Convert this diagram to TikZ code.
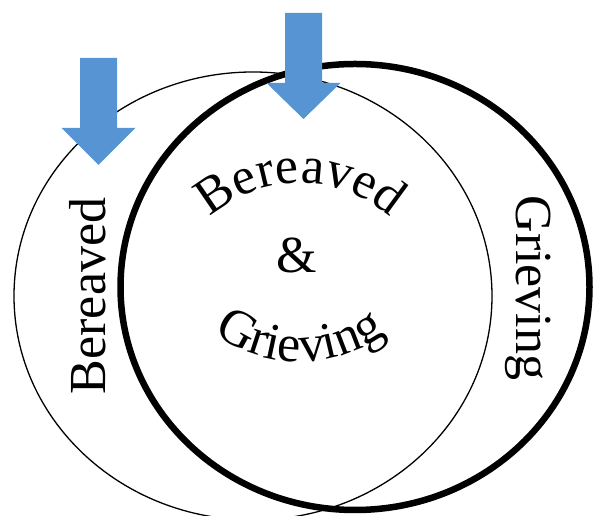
\documentclass[tikz,border=0pt]{standalone}
\usepackage{fontspec}
\setmainfont{Liberation Serif}
\usetikzlibrary{decorations.text}
\definecolor{arrowblue}{RGB}{86,148,211}
\begin{document}
\begin{tikzpicture}[x=1pt,y=1pt,
  thinring/.style={line width=1.3pt},
  thickring/.style={line width=6.5pt},
  downarrow/.style={fill=arrowblue, draw=none},
  bigtext/.style={font=\fontsize{52}{52}\selectfont, inner sep=0pt},
  arctext/.style={decorate, decoration={text along path, text align=center,
    text={|\fontsize{52}{52}\selectfont|#1}}}]
\useasboundingbox (0,0) rectangle (594,516);

% the two overlapping rings
\draw[thinring] (253,220) ellipse [x radius=239, y radius=224];
\draw[thickring] (355,229) ellipse [x radius=234.5, y radius=223];

% block arrows pointing down into the rings
\fill[downarrow] (80,458) -- (117,458) -- (117,388) -- (135.5,388)
  -- (98.5,351) -- (61.5,388) -- (80,388) -- cycle;
\fill[downarrow] (285,503) -- (322,503) -- (322,433) -- (340.5,433)
  -- (303.5,397) -- (266.5,433) -- (285,433) -- cycle;

% side labels
\node[bigtext, rotate=90] (leftlabel) at (88,220) {Bereaved};
\node[bigtext, rotate=-90] (rightlabel) at (528,228) {Grieving};

% arched labels in the overlap
\path[arctext=Bereaved] (300,198) ++(160:135) arc[start angle=160, end angle=20, radius=135];
\node[bigtext, anchor=base] (amp) at (297,243) {\&};
\path[arctext=Grieving] (300,299) ++(200:145) arc[start angle=200, end angle=340, radius=145];
\end{tikzpicture}
\end{document}
